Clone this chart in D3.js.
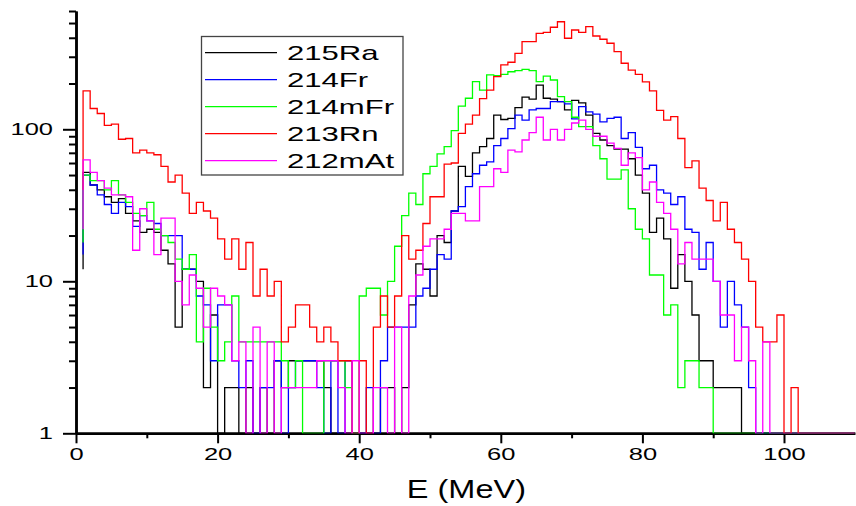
<!DOCTYPE html>
<html>
<head>
<meta charset="utf-8">
<script src="https://cdn.jsdelivr.net/npm/d3@7"></script>
<style>
  body { margin: 0; background: #fff; }
  svg { display: block; }
  text { font-family: "Liberation Sans", Arial, Helvetica, sans-serif; fill: #000; }
</style>
</head>
<body>
<svg id="chart" width="856" height="506"></svg>
<script>
// Energy grid: upper edges of the 1 MeV bins (first value is the leading stub)
const energies = d3.range(1, 111);

// Counts per bin for each nuclide
const ra215 = [12,
  52,43,40,36,33,35,28,25,21,22,
  21,16,13,5,12,12,10,2,6,1,
  2,2,1,2,1,2,1,3,2,3,
  3,3,3,3,2,1,1,1,1,1,
  1,1,2,2,1,2,7,13,12,8,
  20,18,29,57,49,70,77,87,124,116,
  118,139,163,158,195,160,158,152,134,155,
  149,124,94,85,78,74,74,64,50,38,
  21,26,19,9,15,10,6,3,3,2,
  2,2,2,1,1,1,1,1,1,1,
  1,1,1,1,1,1,1,1,1];

const fr214 = [15,
  50,43,37,32,28,33,31,23,27,25,
  24,20,20,20,12,12,8,7,3,7,
  7,3,2,3,1,2,2,3,1,2,
  3,3,3,2,1,3,1,3,1,1,
  2,1,3,5,5,5,5,8,9,12,
  15,14,29,31,42,51,58,61,78,87,
  101,124,115,134,137,137,152,152,147,117,
  141,130,126,112,118,120,87,95,76,55,
  58,40,38,32,36,22,21,12,18,10,
  5,10,7,5,2,1,1,1,1,1,
  1,1,1,1,1,1,1,1,1];

const fr214m = [18,
  50,46,46,40,46,37,33,28,27,33,
  22,20,18,14,12,15,4,9,5,3,
  4,8,4,4,4,4,4,4,3,2,
  3,1,1,1,3,3,3,2,1,8,
  9,9,6,10,17,27,38,32,51,57,
  69,77,98,142,160,206,181,228,225,230,
  239,243,248,243,206,224,211,164,152,120,
  104,104,78,64,47,47,54,30,22,19,
  11,11,6,7,2,3,3,2,2,1,
  1,1,1,1,1,1,1,1,1,1,
  1,1,1,1,1,1,1,1,1];

const rn213 = [40,
  179,137,127,106,108,86,87,70,73,70,
  68,57,45,50,38,28,33,29,26,19,
  14,19,12,18,8,12,8,10,4,5,
  7,7,5,4,5,4,3,3,1,3,
  1,5,8,5,8,20,14,16,24,36,
  36,59,60,94,108,124,159,181,222,265,
  276,316,377,377,428,434,469,510,397,450,
  434,473,411,391,368,324,272,245,230,205,
  179,133,115,121,87,56,62,41,34,25,
  33,22,18,14,10,5,4,4,6,1,
  2,1,1,1,1,1,1,1,1];

const at212m = [22,
  63,52,46,41,37,37,36,16,30,25,
  15,26,26,10,7,11,9,5,9,8,
  7,3,4,1,5,1,4,1,2,2,
  2,2,2,3,3,3,2,1,3,1,
  1,2,2,1,5,1,8,11,17,19,
  19,22,28,28,25,25,42,42,55,52,
  73,71,85,95,120,85,100,85,100,110,
  115,100,90,90,81,75,58,70,65,40,
  45,33,28,22,13,18,14,14,14,10,
  6,6,3,5,3,1,4,1,1,1,
  1,1,1,1,1,1,1,1,1];

const seriesNames = ["215Ra", "214Fr", "214mFr", "213Rn", "212mAt"];
const seriesValues = [ra215, fr214, fr214m, rn213, at212m];
const seriesColors = ["#000000", "#0000ff", "#00ff00", "#ff0000", "#ff00ff"];

const xTicks = [0, 20, 40, 60, 80, 100];
const xMinorTicks = [10, 30, 50, 70, 90];
const yTicks = [1, 10, 100];
const yMinorTicks = [2, 3, 4, 5, 6, 7, 8, 9, 20, 30, 40, 50, 60, 70, 80, 90, 200, 300, 400, 500, 600];
const xTitle = "E (MeV)";

// Horizontal stretch applied to all lettering
const TICK_STRETCH = 1.5;
const LEGEND_STRETCH = 1.48;
const TITLE_STRETCH = 1.3;

const svg = d3.select("#chart");

const x = d3.scaleLinear().domain([0, 110]).range([76, 854.8]);
const y = d3.scaleLog().domain([1, 600]).range([433.3, 11]).clamp(true);

// ---- axes ----
const axisColor = "#000";

function styleAxis(g, width) {
  g.select(".domain").attr("stroke", axisColor).attr("stroke-width", width);
  g.selectAll(".tick line").attr("stroke", axisColor).attr("stroke-width", 2);
}

// x axis: minor then major ticks
const gxMinor = svg.append("g")
  .attr("transform", `translate(0,${y(1)})`)
  .call(d3.axisBottom(x).tickValues(xMinorTicks).tickSize(5).tickSizeOuter(0).tickFormat(""));
styleAxis(gxMinor, 2.5);

const gx = svg.append("g")
  .attr("transform", `translate(0,${y(1)})`)
  .call(d3.axisBottom(x).tickValues(xTicks).tickSize(10).tickSizeOuter(0).tickPadding(4.5));
styleAxis(gx, 2.5);
gx.selectAll(".tick text")
  .attr("font-size", 17)
  .attr("fill", "#000")
  .attr("transform", `scale(${TICK_STRETCH},1)`);

// y axis: minor then major ticks
const gyMinor = svg.append("g")
  .attr("transform", `translate(${x(0)},0)`)
  .call(d3.axisLeft(y).tickValues(yMinorTicks).tickSize(7).tickSizeOuter(0).tickFormat(""));
styleAxis(gyMinor, 2.5);

const gy = svg.append("g")
  .attr("transform", `translate(${x(0)},0)`)
  .call(d3.axisLeft(y).tickValues(yTicks).tickSize(13).tickSizeOuter(0).tickFormat(d3.format("d")));
styleAxis(gy, 2.5);
gy.selectAll(".tick text")
  .attr("font-size", 17)
  .attr("fill", "#000")
  .attr("x", 0)
  .attr("transform", `translate(-23,0) scale(${TICK_STRETCH},1)`);

// axis title
svg.append("text")
  .attr("font-size", 25)
  .attr("text-anchor", "middle")
  .attr("transform", `translate(${(x(0) + x(110)) / 2 + 1},498) scale(${TITLE_STRETCH},1)`)
  .text(xTitle);

// ---- histograms ----
svg.append("clipPath").attr("id", "plotClip")
  .append("rect")
  .attr("x", x(0)).attr("y", y(600))
  .attr("width", x(110) - x(0)).attr("height", y(1) - y(600));

const line = d3.line()
  .x(d => x(d.e))
  .y(d => y(d.v))
  .curve(d3.curveStepBefore);

const plot = svg.append("g").attr("clip-path", "url(#plotClip)");
seriesValues.forEach((vals, i) => {
  const pts = energies.map((e, k) => ({ e: e, v: vals[k] }));
  plot.append("path")
    .datum(pts)
    .attr("fill", "none")
    .attr("stroke", seriesColors[i])
    .attr("stroke-width", 1.3)
    .attr("d", line);
});

// ---- legend ----
const legend = svg.append("g");
legend.append("rect")
  .attr("x", 201.5).attr("y", 36.5)
  .attr("width", 201.5).attr("height", 138.5)
  .attr("fill", "#fff")
  .attr("stroke", "#444")
  .attr("stroke-width", 1.3);

const rowY = d3.scaleLinear().domain([0, 4]).range([52.7, 160.7]);
seriesNames.forEach((name, i) => {
  const yy = rowY(i);
  legend.append("line")
    .attr("x1", 205).attr("x2", 277)
    .attr("y1", yy).attr("y2", yy)
    .attr("stroke", seriesColors[i])
    .attr("stroke-width", 1.3);
  legend.append("text")
    .attr("font-size", 21)
    .attr("transform", `translate(287,${yy + 7.5}) scale(${LEGEND_STRETCH},1)`)
    .text(name);
});
</script>
</body>
</html>
